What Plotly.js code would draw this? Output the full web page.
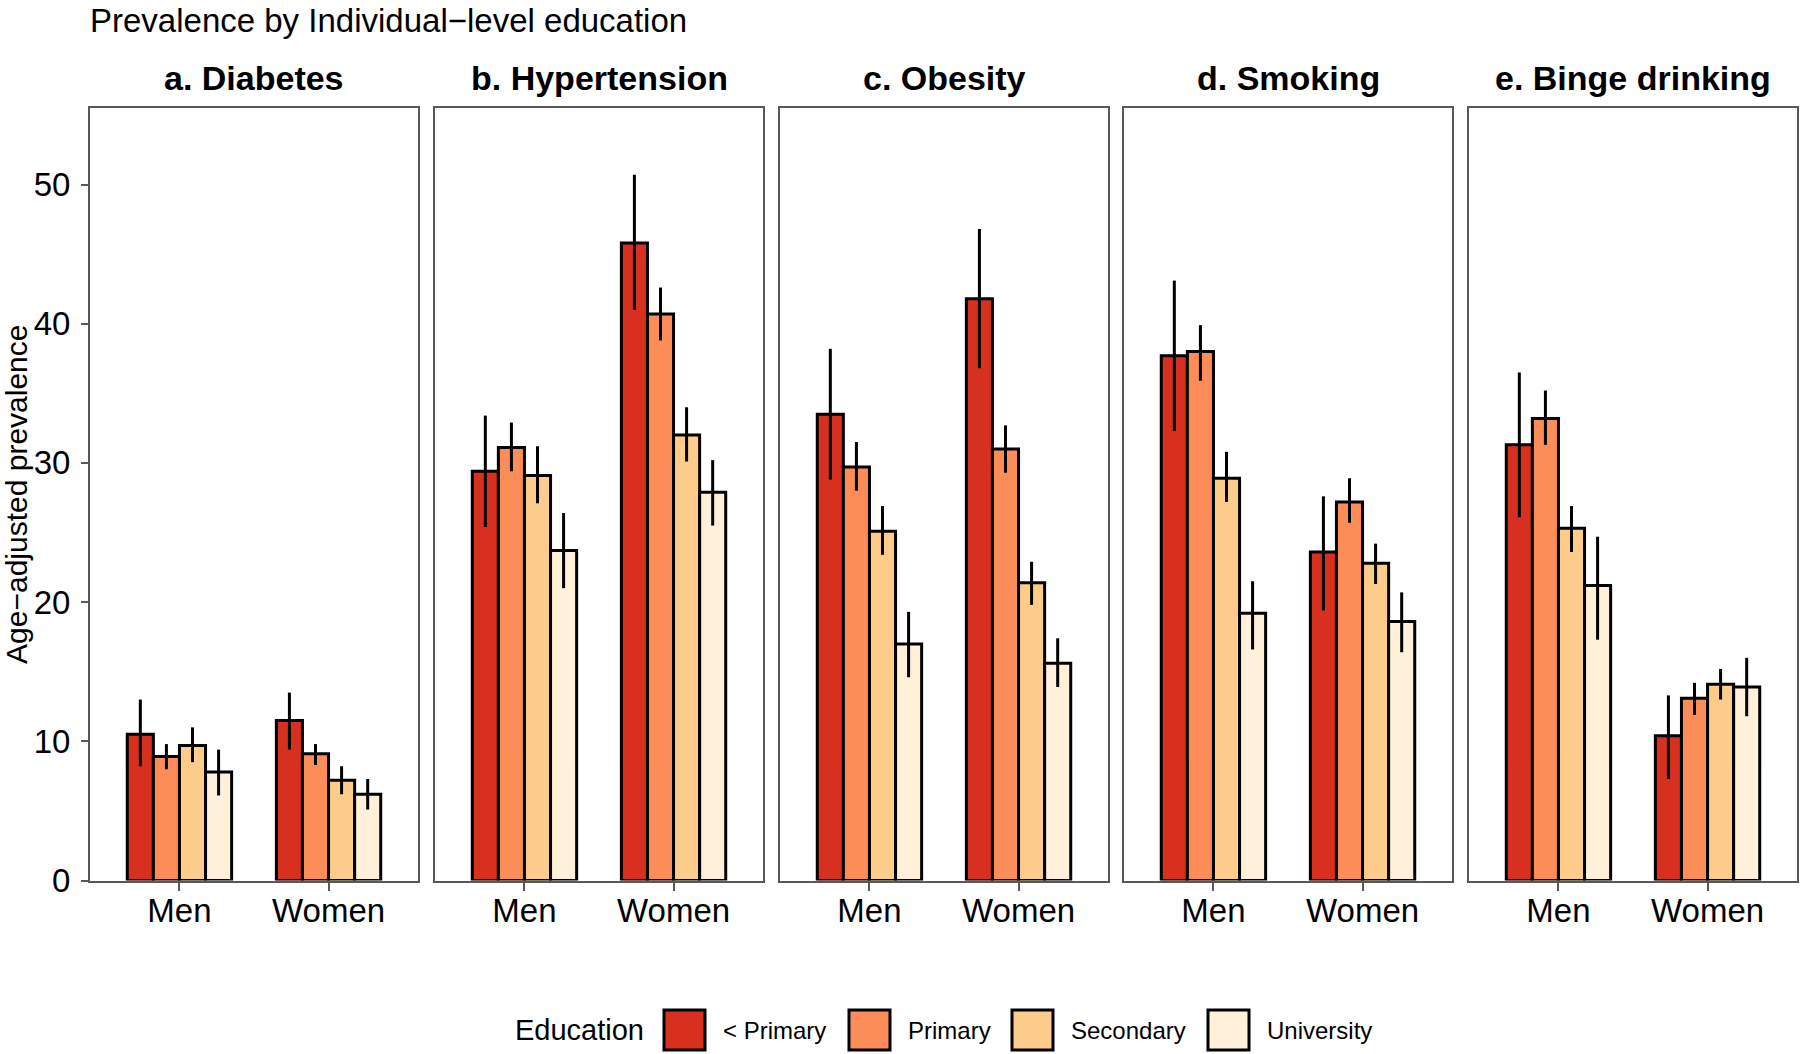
<!DOCTYPE html>
<html>
<head>
<meta charset="utf-8">
<script src="https://cdn.plot.ly/plotly-3.0.1.min.js"></script>
<style>html,body{margin:0;padding:0;background:#fff;}#chart{width:1800px;height:1054px;}</style>
</head>
<body>
<div id="chart"></div>
<script>
// ---- data ----
const sexes = ['Men', 'Women'];
const education = ['< Primary', 'Primary', 'Secondary', 'University'];
const panels = ['a. Diabetes', 'b. Hypertension', 'c. Obesity', 'd. Smoking', 'e. Binge drinking'];
const colors = ['#D7301F', '#FC8D59', '#FDCC8A', '#FEF0D9'];
const yTicks = [0, 10, 20, 30, 40, 50];

// rows = education level, columns = [Men, Women]
const diabetesEst = [[10.5, 11.5], [8.9, 9.1], [9.7, 7.2], [7.8, 6.2]];
const diabetesLo  = [[8.2, 9.4], [8.0, 8.3], [8.5, 6.2], [6.1, 5.1]];
const diabetesHi  = [[13.0, 13.5], [9.8, 9.8], [11.0, 8.2], [9.4, 7.3]];

const hypertensionEst = [[29.4, 45.8], [31.1, 40.7], [29.1, 32.0], [23.7, 27.9]];
const hypertensionLo  = [[25.4, 41.0], [29.4, 38.8], [27.1, 30.1], [21.0, 25.5]];
const hypertensionHi  = [[33.4, 50.7], [32.9, 42.6], [31.2, 34.0], [26.4, 30.2]];

const obesityEst = [[33.5, 41.8], [29.7, 31.0], [25.1, 21.4], [17.0, 15.6]];
const obesityLo  = [[28.8, 36.8], [28.0, 29.3], [23.4, 19.8], [14.6, 13.9]];
const obesityHi  = [[38.2, 46.8], [31.5, 32.7], [26.9, 22.9], [19.3, 17.4]];

const smokingEst = [[37.7, 23.6], [38.0, 27.2], [28.9, 22.8], [19.2, 18.6]];
const smokingLo  = [[32.3, 19.4], [35.9, 25.7], [27.2, 21.3], [16.6, 16.4]];
const smokingHi  = [[43.1, 27.6], [39.9, 28.9], [30.8, 24.2], [21.5, 20.7]];

const bingeEst = [[31.3, 10.4], [33.2, 13.1], [25.3, 14.1], [21.2, 13.9]];
const bingeLo  = [[26.1, 7.3], [31.3, 11.9], [23.6, 13.0], [17.3, 11.8]];
const bingeHi  = [[36.5, 13.3], [35.2, 14.2], [26.9, 15.2], [24.7, 16.0]];

// ---- build ----
const estList = [diabetesEst, hypertensionEst, obesityEst, smokingEst, bingeEst];
const loList = [diabetesLo, hypertensionLo, obesityLo, smokingLo, bingeLo];
const hiList = [diabetesHi, hypertensionHi, obesityHi, smokingHi, bingeHi];

const W = 1800, H = 1054;
const FONT = 'Liberation Sans, Arial, Helvetica, sans-serif';
const panelPx = [[90, 418], [435, 763], [780, 1108], [1124, 1452], [1469, 1797]];
const yTopPx = 108, yBotPx = 880.5;
const yDomain = [1 - yBotPx / H, 1 - yTopPx / H];

const traces = [];
panels.forEach((p, k) => {
  const sfx = k === 0 ? '' : String(k + 1);
  education.forEach((ed, i) => {
    const est = estList[k][i], lo = loList[k][i], hi = hiList[k][i];
    traces.push({
      type: 'bar',
      name: ed,
      x: sexes,
      y: est,
      xaxis: 'x' + sfx,
      yaxis: 'y' + sfx,
      showlegend: false,
      marker: { color: colors[i], line: { color: '#000000', width: 3 } },
      error_y: {
        type: 'data', symmetric: false,
        array: hi.map((v, j) => v - est[j]),
        arrayminus: lo.map((v, j) => est[j] - v),
        width: 0, thickness: 3, color: '#000000'
      },
      hovertemplate: p + '<br>%{x}, ' + ed + ': %{y}<extra></extra>'
    });
  });
});

const layout = {
  width: W, height: H,
  margin: { l: 0, r: 0, t: 0, b: 0, autoexpand: false },
  paper_bgcolor: '#ffffff', plot_bgcolor: '#ffffff',
  barmode: 'group', bargap: 0.3, bargroupgap: 0,
  font: { family: FONT, color: '#000000' },
  title: {
    text: 'Prevalence by Individual\u2212level education',
    x: 90 / W, xref: 'paper', xanchor: 'left',
    y: 1 - 20 / H, yref: 'container', yanchor: 'middle',
    font: { family: FONT, size: 33, color: '#000000' }
  },
  annotations: [],
  shapes: []
};

panels.forEach((p, k) => {
  const sfx = k === 0 ? '' : String(k + 1);
  layout['xaxis' + sfx] = {
    domain: [panelPx[k][0] / W, panelPx[k][1] / W],
    anchor: 'y' + sfx,
    type: 'category', range: [-0.6, 1.6],
    showline: true, mirror: true, linecolor: '#595959', linewidth: 2,
    ticks: 'outside', ticklen: 8, tickwidth: 2, tickcolor: '#595959',
    ticklabelstandoff: -8,
    tickfont: { family: FONT, size: 33, color: '#000000' },
    showgrid: false, zeroline: false, fixedrange: true, automargin: false
  };
  layout['yaxis' + sfx] = {
    domain: yDomain,
    anchor: 'x' + sfx,
    range: [0, 55.5],
    tickvals: yTicks,
    showticklabels: k === 0,
    ticks: k === 0 ? 'outside' : '',
    ticklen: 7, tickwidth: 2, tickcolor: '#595959',
    ticklabelstandoff: 4,
    tickfont: { family: FONT, size: 33, color: '#000000' },
    showline: true, mirror: true, linecolor: '#595959', linewidth: 2,
    showgrid: false, zeroline: false, fixedrange: true, automargin: false
  };
  if (k === 0) {
    layout.yaxis.title = {
      text: 'Age\u2212adjusted prevalence',
      font: { family: FONT, size: 30, color: '#000000' },
      standoff: 12
    };
  }
  layout.annotations.push({
    text: '<b>' + p + '</b>',
    xref: 'paper', yref: 'paper',
    x: (panelPx[k][0] + panelPx[k][1]) / 2 / W,
    y: 1 - 78 / H,
    xanchor: 'center', yanchor: 'middle',
    showarrow: false,
    font: { family: FONT, size: 34, color: '#000000' }
  });
});

// legend (drawn as keys + labels)
const legendY0 = 1010, legendY1 = 1050, legendMid = 1030;
const keyX = [664, 849, 1012, 1208];
const keyW = 41;
layout.annotations.push({
  text: 'Education', xref: 'paper', yref: 'paper',
  x: 513 / W, y: 1 - legendMid / H, xanchor: 'left', yanchor: 'middle',
  showarrow: false, font: { family: FONT, size: 29, color: '#000000' }
});
education.forEach((ed, i) => {
  layout.shapes.push({
    type: 'rect', xref: 'paper', yref: 'paper',
    x0: keyX[i] / W, x1: (keyX[i] + keyW) / W,
    y0: 1 - legendY1 / H, y1: 1 - legendY0 / H,
    fillcolor: colors[i], line: { color: '#000000', width: 3 }
  });
  layout.annotations.push({
    text: ed, xref: 'paper', yref: 'paper',
    x: (keyX[i] + keyW + 16) / W, y: 1 - legendMid / H,
    xanchor: 'left', yanchor: 'middle', showarrow: false,
    font: { family: FONT, size: 24, color: '#000000' }
  });
});

Plotly.newPlot('chart', traces, layout, { displayModeBar: false, staticPlot: true });
</script>
</body>
</html>
